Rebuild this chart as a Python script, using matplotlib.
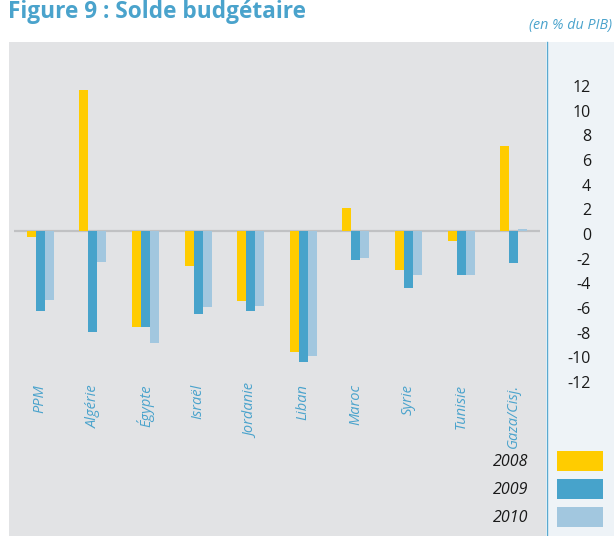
import matplotlib
matplotlib.use("Agg")
import matplotlib.pyplot as plt
import matplotlib.patches as mpatches
from matplotlib.transforms import ScaledTranslation
import numpy as np

plt.rcParams['font.family'] = ['Open Sans', 'DejaVu Sans']

categories = ["PPM", "Algérie", "Égypte", "Israël", "Jordanie", "Liban",
              "Maroc", "Syrie", "Tunisie", "Gaza/Cisj."]
years = ["2008", "2009", "2010"]
v2008 = [-0.5, 11.4, -7.8, -2.8, -5.7, -9.8, 1.9, -3.2, -0.8, 6.9]
v2009 = [-6.5, -8.2, -7.8, -6.7, -6.5, -10.6, -2.35, -4.6, -3.6, -2.6]
v2010 = [-5.6, -2.5, -9.1, -6.2, -6.1, -10.1, -2.2, -3.6, -3.6, 0.2]
yticks = [12, 10, 8, 6, 4, 2, 0, -2, -4, -6, -8, -10, -12]

colors = ["#ffcc00", "#47a3cb", "#a2c7df"]
blue_txt = "#4aa3cc"

W, H = 614, 536
fig = plt.figure(figsize=(W / 100, H / 100), dpi=100)
fig.patch.set_facecolor("white")

def fx(px):
    return px / W

def fy(py):
    return 1 - py / H

# background panels
fig.patches.append(mpatches.Rectangle((fx(9), 0), fx(546 - 9), fy(42), transform=fig.transFigure,
                                      facecolor="#e2e3e5", edgecolor="none", zorder=-2))
fig.patches.append(mpatches.Rectangle((fx(547), 0), fx(614 - 547), fy(42), transform=fig.transFigure,
                                      facecolor="#eef3f7", edgecolor="none", zorder=-2))
fig.lines.append(plt.Line2D([fx(546.5), fx(546.5)], [0, fy(42)], transform=fig.transFigure,
                            color="#5aa9d0", lw=1.0, zorder=-1))

# axes
scale = 12.33
zero_y = 231
ymin, ymax = -12.2, 13.9
ax_top = zero_y - ymax * scale
ax_bot = zero_y - ymin * scale
ax_left, ax_right = 14, 540
ax = fig.add_axes([fx(ax_left), fy(ax_bot), fx(ax_right - ax_left), (ax_bot - ax_top) / H])
ax.set_facecolor("none")
ax.set_xlim(-0.5, 9.5)
ax.set_ylim(ymin, ymax)
for s in ax.spines.values():
    s.set_visible(False)

x = np.arange(len(categories))
w = 0.171
ax.axhline(0, color="#c0c1c3", lw=1.6, zorder=1)
for i, vals in enumerate([v2008, v2009, v2010]):
    ax.bar(x + (i - 1) * w, vals, width=w, color=colors[i], zorder=2, label=years[i])

ax.set_xticks(x)
ax.set_xticklabels(categories, rotation=90, va="top", ha="center",
                   fontsize=10.5, style="italic", color=blue_txt)
ax.tick_params(axis="x", length=0, pad=2)

ax.yaxis.tick_right()
ax.set_yticks(yticks)
ax.set_yticklabels([str(t) for t in yticks], fontsize=11.5, color="#1a1a1a")
ax.tick_params(axis="y", length=0, pad=(591 - ax_right) * 0.72)
off = ScaledTranslation(0, -3 / 100, fig.dpi_scale_trans)
for lab in ax.get_yticklabels():
    lab.set_horizontalalignment("right")
    lab.set_transform(lab.get_transform() + off)

# legend
fs_px = 11.5 * 100 / 72
handles = [mpatches.Patch(facecolor=c, edgecolor="none") for c in colors]
leg = ax.legend(handles, years, loc="upper right",
                bbox_to_anchor=(fx(603), fy(451)), bbox_transform=fig.transFigure,
                frameon=False, markerfirst=False, fontsize=11.5,
                handlelength=46 / fs_px, handleheight=24 / fs_px,
                labelspacing=8.5 / fs_px, handletextpad=29 / fs_px,
                borderpad=0, borderaxespad=0)
for t in leg.get_texts():
    t.set_fontstyle("italic")
    t.set_color("#1a1a1a")

# titles
fig.text(fx(8), fy(18), "Figure 9 : Solde budgétaire", fontsize=16.3, fontweight="bold",
         color=blue_txt, ha="left", va="baseline")
fig.text(fx(612), fy(29), "(en % du PIB)", fontsize=10.3, style="italic",
         color=blue_txt, ha="right", va="baseline")

fig.savefig("out.png", dpi=100, facecolor=fig.get_facecolor())
